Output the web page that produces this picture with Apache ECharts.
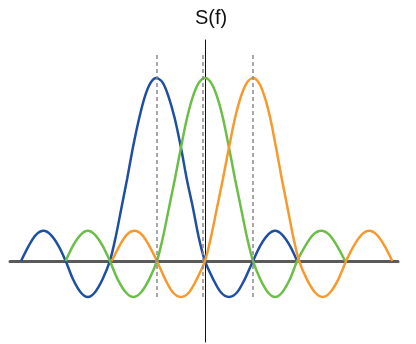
<!DOCTYPE html>
<html>
<head>
<meta charset="utf-8">
<script src="https://cdn.jsdelivr.net/npm/echarts@6/dist/echarts.min.js"></script>
<style>html,body{margin:0;padding:0;background:#fff;}#c{width:416px;height:344px;}</style>
</head>
<body>
<div id="c"></div>
<script>
// Frequency positions (in subcarrier spacings) and amplitudes
var blueX = [-3.83,-3.67,-3.52,-3.36,-3.21,-3.05,
             -2.9,-2.75,-2.59,-2.44,-2.29,-2.13,
             -1.98,-1.86,-1.74,-1.62,-1.5,-1.37,-1.25,-1.13,-1.01,-0.88,-0.76,-0.63,-0.5,-0.38,-0.25,-0.13,
             0,0.17,0.33,0.5,0.67,0.83,
             1,1.15,1.31,1.46,1.61,1.77,1.92];
var blueY = [0,0.083,0.143,0.165,0.143,0.083,
             0,-0.099,-0.171,-0.197,-0.171,-0.099,
             0,0.13,0.29,0.45,0.62,0.78,0.9,0.975,1,0.975,0.9,0.78,0.62,0.45,0.29,0.13,
             0,-0.099,-0.171,-0.197,-0.171,-0.099,
             0,0.083,0.143,0.165,0.143,0.083,0];
var greenX = [-2.9,-2.75,-2.59,-2.44,-2.29,-2.13,
              -1.98,-1.82,-1.65,-1.49,-1.33,-1.16,
              -1,-0.875,-0.75,-0.625,-0.5,-0.375,-0.25,-0.125,0,0.125,0.25,0.375,0.5,0.625,0.75,0.875,
              1,1.15,1.31,1.46,1.61,1.77,
              1.92,2.09,2.25,2.42,2.59,2.75,2.92];
var greenY = [0,0.083,0.143,0.165,0.143,0.083,
              0,-0.099,-0.171,-0.197,-0.171,-0.099,
              0,0.13,0.29,0.45,0.62,0.78,0.9,0.975,1,0.975,0.9,0.78,0.62,0.45,0.29,0.13,
              0,-0.099,-0.171,-0.197,-0.171,-0.099,
              0,0.083,0.143,0.165,0.143,0.083,0];
var orangeX = [-1.94,-1.78,-1.63,-1.47,-1.31,-1.16,
               -1,-0.83,-0.67,-0.5,-0.33,-0.17,
               0,0.125,0.25,0.375,0.5,0.625,0.75,0.875,1,1.12,1.24,1.36,1.48,1.6,1.72,1.84,
               1.96,2.12,2.29,2.45,2.61,2.78,
               2.94,3.1,3.26,3.42,3.58,3.74,3.9];
var orangeY = [0,0.083,0.143,0.165,0.143,0.083,
               0,-0.099,-0.171,-0.197,-0.171,-0.099,
               0,0.13,0.29,0.45,0.62,0.78,0.9,0.975,1,0.975,0.9,0.78,0.62,0.45,0.29,0.13,
               0,-0.099,-0.171,-0.197,-0.171,-0.099,
               0,0.083,0.143,0.165,0.143,0.083,0];
var centers = [-1.01, -0.04, 1.0];
var titleText = 'S(f)';

function pairs(xs, ys){ return xs.map(function(x,i){ return [x, ys[i]]; }); }

var chart = echarts.init(document.getElementById('c'), null, {renderer:'canvas'});
chart.setOption({
  animation: false,
  grid: {left: 10, right: 18, top: 40, bottom: 2},
  xAxis: {
    type: 'value', min: -4.06, max: 4.02,
    axisLine: {onZero: true, lineStyle: {color: '#5a5a5a', width: 3}},
    axisTick: {show: false}, axisLabel: {show: false}, splitLine: {show: false}
  },
  yAxis: {
    type: 'value', min: -0.443, max: 1.208,
    axisLine: {show: true, onZero: true, lineStyle: {color: '#111', width: 1}},
    axisTick: {show: false}, axisLabel: {show: false}, splitLine: {show: false}
  },
  graphic: [{
    type: 'text', left: 195, top: 8,
    style: {text: titleText, fontSize: 20, fontFamily: 'Liberation Sans, Arial, sans-serif', fill: '#111'}
  }],
  series: [
    {
      type: 'line', data: [], silent: true,
      markLine: {
        silent: true, symbol: 'none', label: {show: false},
        lineStyle: {type: [4, 3], color: '#8a8a8a', width: 1.5},
        data: centers.map(function(c){ return [{coord:[c, 1.126]}, {coord:[c, -0.202]}]; })
      }
    },
    {type: 'line', data: pairs(blueX, blueY), smooth: 0.3, showSymbol: false,
     lineStyle: {color: '#1f4fa0', width: 2.5}},
    {type: 'line', data: pairs(greenX, greenY), smooth: 0.3, showSymbol: false,
     lineStyle: {color: '#6bbf47', width: 2.5}},
    {type: 'line', data: pairs(orangeX, orangeY), smooth: 0.3, showSymbol: false,
     lineStyle: {color: '#f7992c', width: 2.5}}
  ]
});
</script>
</body>
</html>
